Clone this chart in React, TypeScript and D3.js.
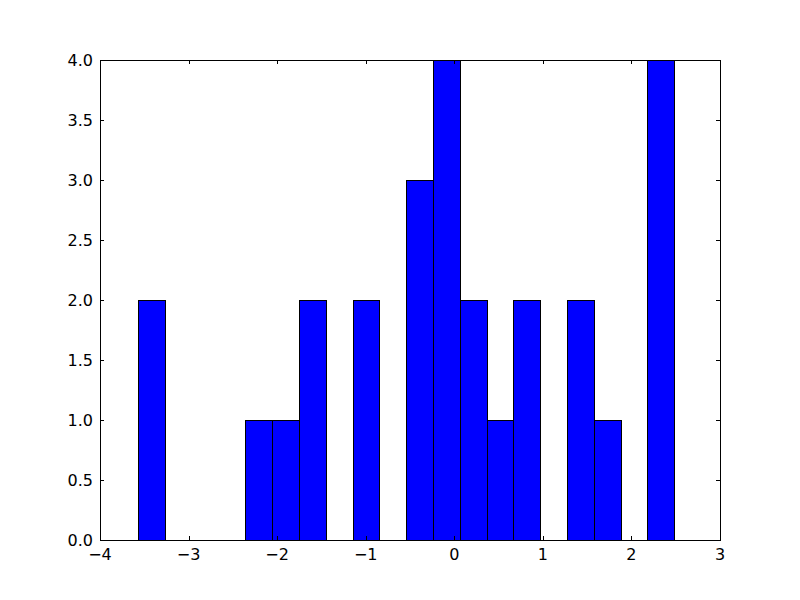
import React from "react";
import * as d3 from "d3";

const binMin = -3.5676;
const binMax = 2.484;
const counts = [2, 0, 0, 0, 1, 1, 2, 0, 2, 0, 3, 4, 2, 1, 2, 0, 2, 1, 0, 4];
const xTicks = [-4, -3, -2, -1, 0, 1, 2, 3];
const yTicks = [0, 0.5, 1, 1.5, 2, 2.5, 3, 3.5, 4];

const W = 800, H = 600;
const L = 100, R = 720, T = 60, B = 540;

export default function App() {
  const x = d3.scaleLinear().domain([-4, 3]).range([L, R]);
  const y = d3.scaleLinear().domain([0, 4]).range([B, T]);
  const bw = (binMax - binMin) / counts.length;
  const fmtX = (v: number) => (v < 0 ? "\u2212" + Math.abs(v) : String(v));
  const font = "DejaVu Sans";
  const fs = 16;
  const tl = 4;
  const p = (v: number) => Math.round(v) + 0.5;
  return (
    <svg width={W} height={H} style={{ position: "absolute", left: 0, top: 0, background: "#fff" }}>
      <rect x={0} y={0} width={W} height={H} fill="#fff" />
      {counts.map((c, i) => {
        if (c === 0) return null;
        const x0 = p(x(binMin + i * bw));
        const x1 = p(x(binMin + (i + 1) * bw));
        const y0 = p(y(c));
        return (
          <rect key={i} x={x0} y={y0} width={x1 - x0} height={p(y(0)) - y0} fill="#0000ff" stroke="#000" strokeWidth={1} shapeRendering="crispEdges" />
        );
      })}
      {xTicks.map((t) => (
        <g key={"x" + t} shapeRendering="crispEdges">
          <line x1={p(x(t))} x2={p(x(t))} y1={B} y2={B - tl} stroke="#000" />
          <line x1={p(x(t))} x2={p(x(t))} y1={T} y2={T + tl} stroke="#000" />
          <text x={x(t)} y={B + 20} textAnchor="middle" fontFamily={font} fontSize={fs}>{fmtX(t)}</text>
        </g>
      ))}
      {yTicks.map((t) => (
        <g key={"y" + t} shapeRendering="crispEdges">
          <line x1={L} x2={L + tl} y1={p(y(t))} y2={p(y(t))} stroke="#000" />
          <line x1={R} x2={R - tl} y1={p(y(t))} y2={p(y(t))} stroke="#000" />
          <text x={L - 7} y={y(t)} dy="0.36em" textAnchor="end" fontFamily={font} fontSize={fs}>{t.toFixed(1)}</text>
        </g>
      ))}
      <rect x={L + 0.5} y={T + 0.5} width={R - L} height={B - T} fill="none" stroke="#000" strokeWidth={1} shapeRendering="crispEdges" />
    </svg>
  );
}
